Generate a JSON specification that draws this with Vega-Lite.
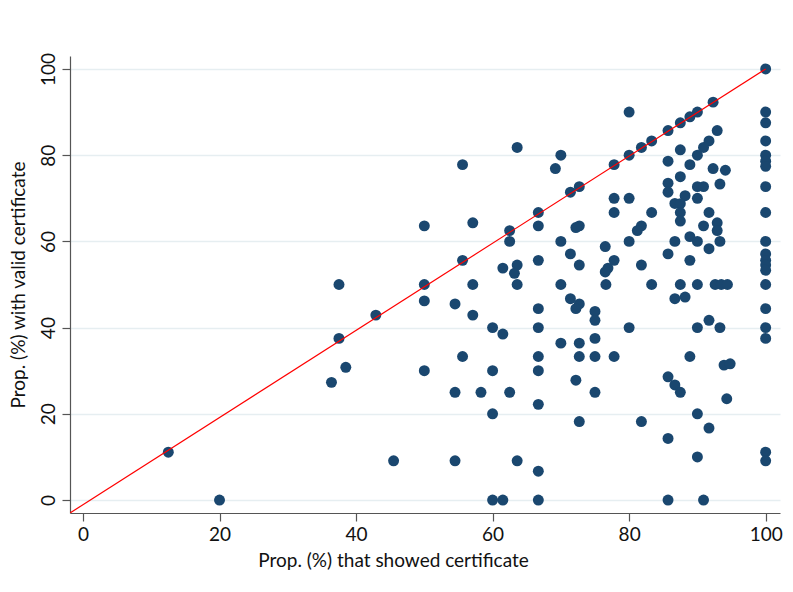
{
  "$schema": "https://vega.github.io/schema/vega-lite/v6.json",
  "width": 710,
  "height": 457,
  "autosize": {"type": "none"},
  "padding": {"left": 70, "top": 56, "right": 13, "bottom": 79},
  "background": "white",
  "config": {"view": {"stroke": null}, "font": "Lato"},
  "datasets": {
    "points": [
      {"showed": 12.5, "valid": 11.1}, {"showed": 20, "valid": 0}, {"showed": 37.5, "valid": 50}, {"showed": 37.5, "valid": 37.5},
      {"showed": 38.5, "valid": 30.8}, {"showed": 36.4, "valid": 27.3}, {"showed": 42.9, "valid": 42.9}, {"showed": 45.5, "valid": 9.1},
      {"showed": 50, "valid": 63.6}, {"showed": 50, "valid": 50}, {"showed": 50, "valid": 46.2}, {"showed": 50, "valid": 30},
      {"showed": 54.5, "valid": 45.5}, {"showed": 54.5, "valid": 25}, {"showed": 54.5, "valid": 9.1}, {"showed": 55.6, "valid": 77.8},
      {"showed": 55.6, "valid": 55.6}, {"showed": 55.6, "valid": 33.3}, {"showed": 57.1, "valid": 64.3}, {"showed": 57.1, "valid": 50},
      {"showed": 57.1, "valid": 42.9}, {"showed": 58.3, "valid": 25}, {"showed": 60, "valid": 40}, {"showed": 60, "valid": 30},
      {"showed": 60, "valid": 20}, {"showed": 60, "valid": 0}, {"showed": 61.5, "valid": 53.8}, {"showed": 61.5, "valid": 38.5},
      {"showed": 61.5, "valid": 0}, {"showed": 62.5, "valid": 62.5}, {"showed": 62.5, "valid": 60}, {"showed": 62.5, "valid": 25},
      {"showed": 63.6, "valid": 81.8}, {"showed": 63.6, "valid": 54.5}, {"showed": 63.2, "valid": 52.6}, {"showed": 63.6, "valid": 50},
      {"showed": 63.6, "valid": 9.1}, {"showed": 66.7, "valid": 66.7}, {"showed": 66.7, "valid": 63.6}, {"showed": 66.7, "valid": 55.6},
      {"showed": 66.7, "valid": 44.4}, {"showed": 66.7, "valid": 40}, {"showed": 66.7, "valid": 33.3}, {"showed": 66.7, "valid": 30},
      {"showed": 66.7, "valid": 22.2}, {"showed": 66.7, "valid": 6.7}, {"showed": 66.7, "valid": 0}, {"showed": 70, "valid": 80},
      {"showed": 69.2, "valid": 76.9}, {"showed": 70, "valid": 60}, {"showed": 70, "valid": 50}, {"showed": 70, "valid": 36.4},
      {"showed": 71.4, "valid": 71.4}, {"showed": 71.4, "valid": 57.1}, {"showed": 71.4, "valid": 46.7}, {"showed": 72.7, "valid": 72.7},
      {"showed": 72.7, "valid": 63.6}, {"showed": 72.2, "valid": 63.2}, {"showed": 72.7, "valid": 54.5}, {"showed": 72.7, "valid": 45.5},
      {"showed": 72.2, "valid": 44.4}, {"showed": 72.7, "valid": 36.4}, {"showed": 72.7, "valid": 33.3}, {"showed": 72.2, "valid": 27.8},
      {"showed": 72.7, "valid": 18.2}, {"showed": 75, "valid": 43.75}, {"showed": 75, "valid": 41.7}, {"showed": 75, "valid": 37.5},
      {"showed": 75, "valid": 33.3}, {"showed": 75, "valid": 25}, {"showed": 76.5, "valid": 58.8}, {"showed": 76.9, "valid": 53.8},
      {"showed": 76.5, "valid": 52.9}, {"showed": 76.6, "valid": 50}, {"showed": 77.8, "valid": 77.8}, {"showed": 77.8, "valid": 70},
      {"showed": 77.8, "valid": 66.7}, {"showed": 77.8, "valid": 55.6}, {"showed": 77.8, "valid": 33.3}, {"showed": 80, "valid": 90},
      {"showed": 80, "valid": 80}, {"showed": 81.8, "valid": 81.8}, {"showed": 83.3, "valid": 83.3}, {"showed": 85.7, "valid": 85.7},
      {"showed": 87.5, "valid": 87.5}, {"showed": 88.9, "valid": 88.9}, {"showed": 90, "valid": 90}, {"showed": 92.3, "valid": 92.3},
      {"showed": 92.9, "valid": 85.7}, {"showed": 91.7, "valid": 83.3}, {"showed": 90.9, "valid": 81.8}, {"showed": 90, "valid": 80},
      {"showed": 87.5, "valid": 81.25}, {"showed": 85.7, "valid": 78.6}, {"showed": 88.9, "valid": 77.8}, {"showed": 92.3, "valid": 76.9},
      {"showed": 94.1, "valid": 76.5}, {"showed": 87.5, "valid": 75}, {"showed": 85.7, "valid": 73.5}, {"showed": 85.7, "valid": 71.4},
      {"showed": 90, "valid": 72.7}, {"showed": 90.9, "valid": 72.7}, {"showed": 93.3, "valid": 73.3}, {"showed": 88.2, "valid": 70.6},
      {"showed": 80, "valid": 70}, {"showed": 90, "valid": 70}, {"showed": 86.7, "valid": 68.8}, {"showed": 87.5, "valid": 68.75},
      {"showed": 83.3, "valid": 66.7}, {"showed": 87.5, "valid": 66.7}, {"showed": 91.7, "valid": 66.7}, {"showed": 87.5, "valid": 64.7},
      {"showed": 92.9, "valid": 64.3}, {"showed": 92.9, "valid": 62.5}, {"showed": 90.9, "valid": 63.6}, {"showed": 81.8, "valid": 63.6},
      {"showed": 81.2, "valid": 62.5}, {"showed": 80, "valid": 60}, {"showed": 86.7, "valid": 60}, {"showed": 88.9, "valid": 61.1},
      {"showed": 90, "valid": 60}, {"showed": 93.3, "valid": 60}, {"showed": 91.7, "valid": 58.3}, {"showed": 85.7, "valid": 57.1},
      {"showed": 88.9, "valid": 55.6}, {"showed": 81.8, "valid": 54.5}, {"showed": 83.3, "valid": 50}, {"showed": 87.5, "valid": 50},
      {"showed": 90, "valid": 50}, {"showed": 92.6, "valid": 50}, {"showed": 93.5, "valid": 50}, {"showed": 94.4, "valid": 50},
      {"showed": 86.7, "valid": 46.7}, {"showed": 88.2, "valid": 47.1}, {"showed": 80, "valid": 40}, {"showed": 90, "valid": 40},
      {"showed": 91.7, "valid": 41.7}, {"showed": 93.3, "valid": 40}, {"showed": 88.9, "valid": 33.3}, {"showed": 93.9, "valid": 31.3},
      {"showed": 94.8, "valid": 31.6}, {"showed": 85.7, "valid": 28.6}, {"showed": 86.7, "valid": 26.7}, {"showed": 87.5, "valid": 25},
      {"showed": 94.3, "valid": 23.5}, {"showed": 90, "valid": 20}, {"showed": 81.8, "valid": 18.2}, {"showed": 91.7, "valid": 16.7},
      {"showed": 85.7, "valid": 14.3}, {"showed": 90, "valid": 10}, {"showed": 85.7, "valid": 0}, {"showed": 90.9, "valid": 0},
      {"showed": 100, "valid": 100}, {"showed": 100, "valid": 90}, {"showed": 100, "valid": 87.5}, {"showed": 100, "valid": 83.3},
      {"showed": 100, "valid": 80}, {"showed": 100, "valid": 78.6}, {"showed": 100, "valid": 77.4}, {"showed": 100, "valid": 72.7},
      {"showed": 100, "valid": 66.7}, {"showed": 100, "valid": 60}, {"showed": 100, "valid": 57.1}, {"showed": 100, "valid": 55.6},
      {"showed": 100, "valid": 54.5}, {"showed": 100, "valid": 53.3}, {"showed": 100, "valid": 50}, {"showed": 100, "valid": 44.4},
      {"showed": 100, "valid": 40}, {"showed": 100, "valid": 37.5}, {"showed": 100, "valid": 11.1}, {"showed": 100, "valid": 9.1}
    ],
    "diag": [
      {"showed": -1.9, "valid": -3},
      {"showed": 100, "valid": 100}
    ]
  },
  "layer": [
    {
      "data": {"name": "points"},
      "mark": {"type": "circle", "size": 120, "color": "#1a476f", "opacity": 1},
      "encoding": {
        "x": {
          "field": "showed", "type": "quantitative",
          "scale": {"domain": [-1.9, 102.1], "nice": false, "zero": false},
          "axis": {
            "values": [0, 20, 40, 60, 80, 100],
            "title": "Prop. (%) that showed certificate",
            "grid": false,
            "domainColor": "#555555", "domainWidth": 1.2,
            "tickColor": "#555555", "tickWidth": 1.2, "tickSize": 8,
            "labelFontSize": 19, "labelPadding": 4, "labelColor": "#111111", "labelFlush": false,
            "titleFontSize": 19, "titleFontWeight": "normal", "titleColor": "#111111",
            "titleX": 323, "titlePadding": 7
          }
        },
        "y": {
          "field": "valid", "type": "quantitative",
          "scale": {"domain": [-3, 103], "nice": false, "zero": false},
          "axis": {
            "values": [0, 20, 40, 60, 80, 100],
            "title": "Prop. (%) with valid certificate",
            "grid": true, "gridColor": "#e6eef1", "gridWidth": 1.5,
            "domainColor": "#555555", "domainWidth": 1.2,
            "tickColor": "#555555", "tickWidth": 1.2, "tickSize": 8,
            "labelFontSize": 19, "labelPadding": 4, "labelColor": "#111111",
            "labelAngle": -90, "labelAlign": "center", "labelBaseline": "bottom", "labelFlush": false,
            "titleFontSize": 19, "titleFontWeight": "normal", "titleColor": "#111111",
            "titlePadding": 11
          }
        }
      }
    },
    {
      "data": {"name": "diag"},
      "mark": {"type": "line", "color": "#ff0000", "strokeWidth": 1.2, "clip": true},
      "encoding": {
        "x": {"field": "showed", "type": "quantitative"},
        "y": {"field": "valid", "type": "quantitative"}
      }
    }
  ]
}
